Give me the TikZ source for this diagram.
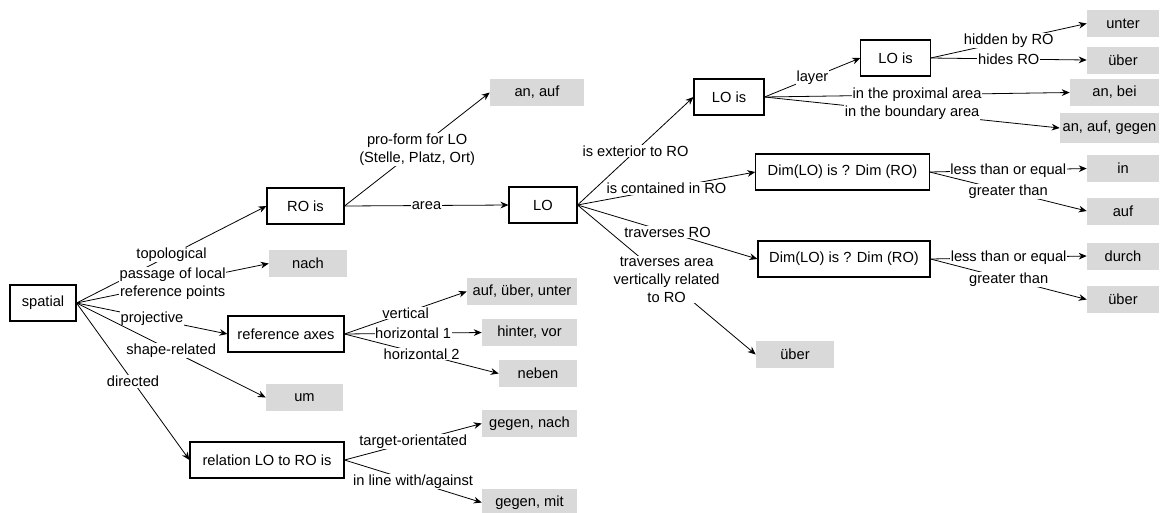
\documentclass[tikz,border=0pt]{standalone}
\usepackage{fontspec}
\setmainfont{Liberation Sans}
\usepackage{tikz}
\usetikzlibrary{arrows.meta}
\definecolor{prepgray}{RGB}{217,217,217}

\begin{document}
\begin{tikzpicture}[x=0.75pt, y=-0.75pt,
  every node/.style={font=\fontsize{11}{13.5}\selectfont},
  box/.style={draw, line width=0.8pt, minimum height=27pt, inner sep=2pt, align=center},
  prep/.style={fill=prepgray, minimum height=20.25pt, inner sep=2pt, align=center},
  arr/.style={->, >={Stealth[length=6pt, width=5pt]}, line width=0.6pt},
  lbl/.style={midway, fill=white, inner sep=0.5pt, align=center}]
  \useasboundingbox (0,0) rectangle (1160,512);

  % Boxes
  \node[box, minimum width=49.5pt] (spatial) at (43,303) {spatial};
  \node[box, minimum width=57.75pt] (rois) at (305.5,206) {RO is};
  \node[box, minimum width=87pt] (refaxes) at (286,334) {reference axes};
  \node[box, minimum width=115.5pt] (relation) at (267,460) {relation LO to RO is};
  \node[box, minimum width=51pt] (lo) at (543,205) {LO};
  \node[box, minimum width=52.5pt] (loisA) at (729,97) {LO is};
  \node[box, minimum width=52pt] (loisB) at (895.5,58) {LO is};
  \node[box, minimum width=130pt] (dimA) at (842.5,172) {Dim(LO) is ? Dim (RO)};
  \node[box, minimum width=129pt] (dimB) at (844,259) {Dim(LO) is ? Dim (RO)};

  % Prepositions
  \node[prep, minimum width=58.5pt] (nach) at (308,263.5) {nach};
  \node[prep, minimum width=57.75pt] (um) at (304.5,397.5) {um};
  \node[prep, minimum width=70.5pt] (anauf) at (537,92.5) {an, auf};
  \node[prep, minimum width=82.5pt] (aufueberunter) at (522,291.5) {auf, über, unter};
  \node[prep, minimum width=71.25pt] (hintervor) at (529.5,332.5) {hinter, vor};
  \node[prep, minimum width=58.5pt] (neben) at (538,373.5) {neben};
  \node[prep, minimum width=71.25pt] (gegennach) at (529.5,423.5) {gegen, nach};
  \node[prep, minimum width=71.25pt] (gegenmit) at (529.5,502.5) {gegen, mit};
  \node[prep, minimum width=58.5pt] (ueberC) at (795,354.5) {über};
  \node[prep, minimum width=54pt] (unter) at (1123,23.5) {unter};
  \node[prep, minimum width=54pt] (ueberA) at (1123,60) {über};
  \node[prep, minimum width=66.75pt] (anbei) at (1114.5,92.5) {an, bei};
  \node[prep, minimum width=74.25pt, minimum height=22.5pt] (anaufgegen) at (1109.5,128) {an, auf, gegen};
  \node[prep, minimum width=54pt] (pin) at (1123,168.5) {in};
  \node[prep, minimum width=54pt] (pauf) at (1123,211) {auf};
  \node[prep, minimum width=54pt] (durch) at (1123,256) {durch};
  \node[prep, minimum width=54pt] (ueberB) at (1123,299.5) {über};

  % From spatial
  \draw[arr] (spatial.east) -- node[lbl] {topological} (rois.west);
  \draw[arr] (spatial.east) -- node[lbl] {passage of local\\reference points} (nach.west);
  \draw[arr] (spatial.east) -- node[lbl] {projective} (refaxes.west);
  \draw[arr] (spatial.east) -- node[lbl] {shape-related} (um.west);
  \draw[arr] (spatial.east) -- node[lbl] {directed} (relation.west);

  % From RO is
  \draw[arr] (rois.east) -- node[lbl] {pro-form for LO\\(Stelle, Platz, Ort)} (anauf.west);
  \draw[arr] (rois.east) -- node[lbl] {area} (lo.west);

  % From reference axes
  \draw[arr] (refaxes.east) -- node[lbl] {vertical} (aufueberunter.west);
  \draw[arr] (refaxes.east) -- node[lbl] {horizontal 1} (hintervor.west);
  \draw[arr] (refaxes.east) -- node[lbl] {horizontal 2} (neben.west);

  % From relation
  \draw[arr] (relation.east) -- node[lbl] {target-orientated} (gegennach.west);
  \draw[arr] (relation.east) -- node[lbl] {in line with/against} (gegenmit.west);

  % From LO
  \draw[arr] (lo.east) -- node[lbl] {is exterior to RO} (loisA.west);
  \draw[arr] (lo.east) -- node[lbl] {is contained in RO} (dimA.west);
  \draw[arr] (lo.east) -- node[lbl] {traverses RO} (dimB.west);
  \draw[arr] (lo.east) -- node[lbl] {traverses area\\vertically related\\to RO} (ueberC.west);

  % From LO is
  \draw[arr] (loisA.east) -- node[lbl] {layer} (loisB.west);
  \draw[arr] (loisA.east) -- node[lbl] {in the proximal area} (anbei.west);
  \draw[arr] (loisA.east) -- node[lbl] {in the boundary area} (anaufgegen.west);
  \draw[arr] (loisB.east) -- node[lbl] {hidden by RO} (unter.west);
  \draw[arr] (loisB.east) -- node[lbl] {hides RO} (ueberA.west);

  % From Dim boxes
  \draw[arr] (dimA.east) -- node[lbl] {less than or equal} (pin.west);
  \draw[arr] (dimA.east) -- node[lbl] {greater than} (pauf.west);
  \draw[arr] (dimB.east) -- node[lbl] {less than or equal} (durch.west);
  \draw[arr] (dimB.east) -- node[lbl] {greater than} (ueberB.west);
\end{tikzpicture}
\end{document}
